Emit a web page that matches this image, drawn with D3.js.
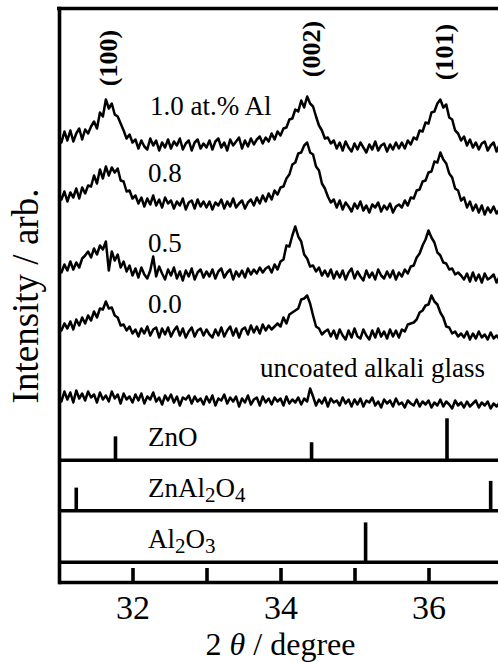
<!DOCTYPE html>
<html><head><meta charset="utf-8">
<script src="https://cdn.jsdelivr.net/npm/d3@7"></script>
<style>html,body{margin:0;padding:0;background:#fff;} svg{display:block;}</style>
</head><body><svg id="chart" width="498" height="662"></svg>
<script>
// ---- data ----
const angleStart = 31, angleStep = 0.04;   // 2θ grid of the measured patterns
const sampleNames = ["1.0 at.% Al", "0.8", "0.5", "0.0", "uncoated alkali glass"];
const sampleOffsets = [430, 368, 300, 243, 174];   // vertical stacking (arb. units)

const int10 = [18,10,21,12,22,11,19,24,13,23,19,
  26,31,24,40,36,53,44,49,38,36,29,22,14,18,10,
  13,4,12,6,3,14,7,12,2,10,5,13,4,11,7,14,3,9,12,2,10,13,4,9,5,
  12,3,11,14,5,10,2,13,7,11,15,4,12,6,14,8,13,16,9,15,
  11,19,13,21,17,24,25,33,34,43,41,52,45,56,49,46,36,27,22,14,
  15,9,12,4,10,2,11,5,1,9,3,10,5,0,8,3,11,2,7,9,1,8,3,10,4,
  10,4,12,8,15,13,22,21,30,
  29,40,41,49,53,45,48,35,33,22,19,
  12,16,7,13,5,10,3,9,11,2,7,10,1,8,4];
const int08 = [21,15,23,13,22,17,26,16,27,21,29,
  28,39,31,45,36,48,39,47,42,46,34,33,23,24,16,
  19,11,17,8,16,10,19,9,15,7,17,11,14,6,13,9,16,5,12,14,6,15,8,13,7,
  13,5,12,9,15,6,13,8,16,7,11,14,6,12,15,9,17,11,19,13,
  21,15,24,20,27,28,36,40,50,52,61,62,69,72,62,60,48,44,31,26,
  18,12,15,7,14,5,12,8,3,11,6,13,4,9,2,10,7,12,3,9,5,11,2,8,10,
  7,14,9,17,16,24,25,33,34,
  42,43,53,52,62,55,51,41,37,26,24,
  14,17,7,13,4,10,2,9,0,7,2,8,1,5,3];
const int05 = [16,10,18,12,21,13,20,15,24,27,31,
  25,34,28,37,33,41,12,31,22,28,15,21,11,17,7,
  14,5,15,8,4,12,26,6,16,9,3,13,7,15,4,11,2,12,6,14,3,10,13,5,11,
  6,13,4,11,14,5,10,13,3,11,6,12,5,14,8,13,9,15,10,14,
  16,10,18,13,21,23,37,36,47,56,46,41,28,24,16,17,11,15,7,12,
  6,13,4,11,5,12,3,10,14,4,11,6,2,12,5,10,3,13,7,4,11,5,12,3,10,
  6,13,9,16,17,25,29,37,43,
  52,45,40,30,27,20,19,13,14,8,10,
  7,3,9,1,10,2,8,0,9,3,5,8,0,6,1];
const int00 = [14,9,16,11,18,10,20,14,22,16,24,
  19,28,22,31,30,38,31,32,24,22,14,15,9,13,6,
  10,3,11,6,13,4,10,12,2,11,5,12,3,9,13,4,11,2,8,12,3,9,11,4,10,
  5,2,10,4,12,3,9,13,4,11,2,10,12,5,14,7,13,6,15,9,
  14,10,13,16,13,22,16,25,27,29,31,40,41,44,36,24,13,11,5,8,
  10,3,9,1,10,4,0,9,2,11,3,1,10,4,0,9,2,11,3,8,1,10,3,9,2,
  10,8,15,16,17,20,27,29,34,
  35,44,38,35,27,22,13,12,6,8,3,
  6,2,8,0,6,1,8,2,5,0,7,1,4,0,3];
const intGlass = [15,7,17,9,16,6,18,10,15,8,17,11,14,6,16,9,13,7,17,10,14,5,15,9,12,
  6,14,8,15,5,12,9,16,7,11,4,13,8,14,6,12,3,11,9,13,5,12,7,10,4,
  12,6,13,3,10,8,14,5,11,7,12,2,10,6,13,4,9,11,3,12,6,10,4,11,7,
  10,3,12,5,9,6,11,4,10,7,20,12,3,9,5,11,2,10,6,8,3,11,5,9,2,
  9,4,10,2,8,6,11,3,7,1,9,5,8,2,10,4,6,1,8,5,3,9,2,7,4,
  8,1,6,3,9,2,7,4,0,8,3,6,1,7,2,5,8,1,6,3,7,0,5,2,6,3];
const sampleSeries = [int10, int08, int05, int00, intGlass];

const hklLabels = ["(100)", "(002)", "(101)"];
const hklAngles = [31.68, 34.42, 36.22];

// reference patterns (relative intensity)
const phaseNames = [["ZnO"], ["ZnAl", "2", "O", "4"], ["Al", "2", "O", "3"]];
const znoAngles = [31.77, 34.42, 36.25];
const znoInt = [57, 43, 100];
const znal2o4Angles = [31.24, 36.84];
const znal2o4Int = [55, 71];
const al2o3Angles = [35.15];
const al2o3Int = [95];

const tickValues = [32, 33, 34, 35, 36];
const tickLabelValues = [32, 34, 36];

// ---- layout ----
const W = 498, H = 662;
const plotLeft = 58.5, plotTop = 8.5, axisY = 582.5;
const panelBase = [460.3, 510.7, 562.3];
const font = "'Liberation Serif','Times New Roman',Times,serif";
const svg = d3.select("#chart");

const x = d3.scaleLinear().domain([31, 37]).range([plotLeft, plotLeft + 6 * 74]);
const y = d3.scaleLinear().domain([0, 574]).range([axisY, plotTop]);
const s = d3.scaleLinear().domain([0, 100]).range([0, 42]);

svg.append("defs").append("clipPath").attr("id", "clip")
  .append("rect").attr("x", plotLeft).attr("y", plotTop).attr("width", W - plotLeft).attr("height", axisY - plotTop);

// curves
const lineGen = (off) => d3.line()
  .x((d, i) => x(angleStart + i * angleStep))
  .y(d => y(d + off));
const gCurves = svg.append("g").attr("clip-path", "url(#clip)");
sampleSeries.forEach((ser, k) => {
  gCurves.append("path").datum(ser)
    .attr("d", lineGen(sampleOffsets[k]))
    .attr("fill", "none").attr("stroke", "#000")
    .attr("stroke-width", 2.5).attr("stroke-linejoin", "round");
});

// frame lines
const sw = 3.6;
svg.append("line").attr("x1", plotLeft - 1.5).attr("x2", W).attr("y1", plotTop).attr("y2", plotTop)
  .attr("stroke", "#000").attr("stroke-width", sw);
svg.append("line").attr("x1", plotLeft + 1).attr("x2", plotLeft + 1).attr("y1", plotTop - 1.8).attr("y2", axisY + 1.8)
  .attr("stroke", "#000").attr("stroke-width", sw);
panelBase.concat([axisY]).forEach(yy => {
  svg.append("line").attr("x1", plotLeft).attr("x2", W).attr("y1", yy).attr("y2", yy)
    .attr("stroke", "#000").attr("stroke-width", sw);
});

// sticks
const sticks = [[znoAngles, znoInt], [znal2o4Angles, znal2o4Int], [al2o3Angles, al2o3Int]];
sticks.forEach(([ang, inten], p) => {
  svg.append("g").selectAll("line").data(ang).join("line")
    .attr("x1", d => x(d)).attr("x2", d => x(d))
    .attr("y1", panelBase[p]).attr("y2", (d, i) => panelBase[p] - s(inten[i]))
    .attr("stroke", "#000").attr("stroke-width", 3.6);
});

// x axis ticks (inward) and labels
const xAxis = d3.axisBottom(x).tickValues(tickValues).tickSize(-14.5)
  .tickFormat(d => tickLabelValues.includes(d) ? d : "");
const gx = svg.append("g").attr("transform", `translate(0,${axisY})`).call(xAxis);
gx.select(".domain").remove();
gx.selectAll(".tick line").attr("stroke", "#000").attr("stroke-width", 3.6);
gx.selectAll(".tick text").attr("y", 36.5).attr("dy", null)
  .attr("font-family", font).attr("font-size", 34).attr("fill", "#000");

// axis titles
const xt = svg.append("text").attr("x", x(34)).attr("y", 655)
  .attr("text-anchor", "middle").attr("font-family", font).attr("font-size", 32).attr("fill", "#000");
xt.append("tspan").text("2 ");
xt.append("tspan").attr("font-style", "italic").text("θ");
xt.append("tspan").text(" / degree");

svg.append("text").attr("transform", `translate(38,296) rotate(-90)`)
  .attr("text-anchor", "middle")
  .attr("font-family", font).attr("font-size", 37).attr("fill", "#000")
  .text("Intensity / arb.");

// hkl labels
const hklY = [58, 49, 52];
svg.append("g").selectAll("text").data(hklLabels).join("text")
  .attr("transform", (d, i) => `translate(${x(hklAngles[i])},${hklY[i]}) rotate(-90)`)
  .attr("text-anchor", "middle").attr("dominant-baseline", "central")
  .attr("font-family", font).attr("font-weight", "bold").attr("font-size", 26).attr("fill", "#000")
  .text(d => d);

// sample labels
const sampleLabelPos = [[150, 115], [148, 182], [148, 252], [148, 313], [260, 377]];
sampleNames.forEach((n, k) => {
  svg.append("text").attr("x", sampleLabelPos[k][0]).attr("y", sampleLabelPos[k][1])
    .attr("font-family", font).attr("font-size", 27).attr("fill", "#000").text(n);
});

// phase labels with subscripts
const phaseLabelY = [446, 497, 548];
phaseNames.forEach((parts, k) => {
  const t = svg.append("text").attr("x", 148).attr("y", phaseLabelY[k])
    .attr("font-family", font).attr("font-size", 27).attr("fill", "#000");
  let sub = false;
  parts.forEach(p => {
    const isSub = /^\d+$/.test(p);
    const ts = t.append("tspan").text(p);
    if (isSub) { ts.attr("font-size", 21).attr("dy", 5); sub = true; }
    else if (sub) { ts.attr("dy", -5); sub = false; }
  });
});
</script></body></html>
